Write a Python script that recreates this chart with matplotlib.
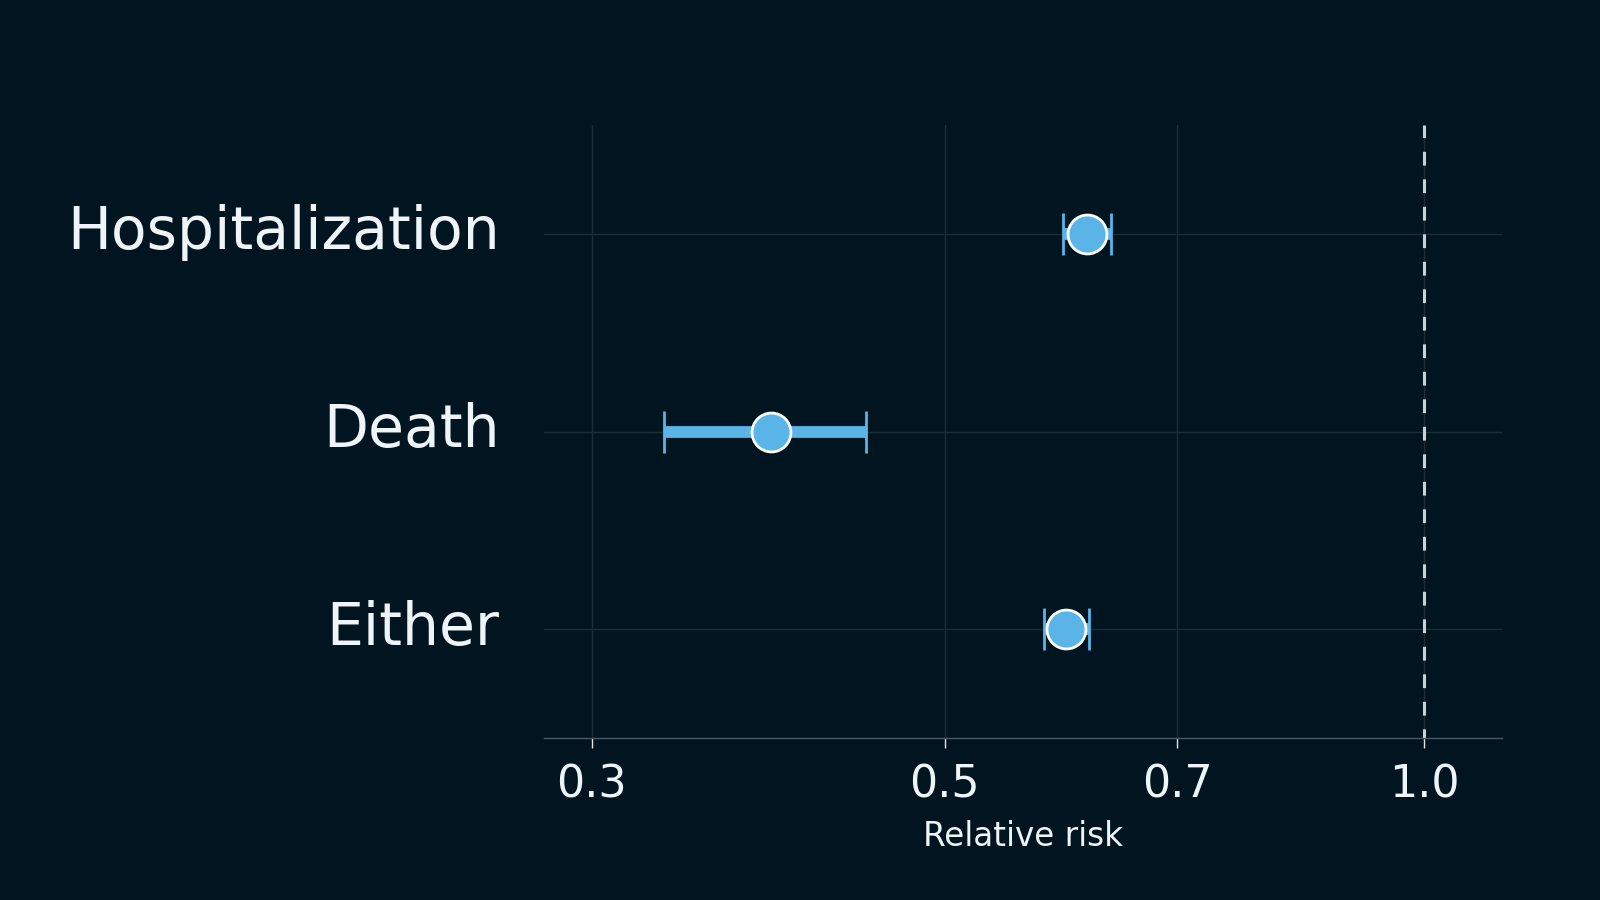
import numpy as np
import matplotlib.pyplot as plt
import matplotlib.transforms as mtransforms

# relative risk estimates with 95% CI
outcomes = ['Hospitalization', 'Death', 'Either']
rr = [0.614, 0.389, 0.596]
ci_low = [0.593, 0.333, 0.577]
ci_high = [0.636, 0.446, 0.616]
xticks = [0.3, 0.5, 0.7, 1.0]
xtick_labels = ['0.3', '0.5', '0.7', '1.0']

bg = '#011520'
blue = '#5ab4e8'
txt = '#eef4f8'

fig = plt.figure(figsize=(16, 9), dpi=100, facecolor=bg)
ax = fig.add_axes([0.34, 0.18, 0.599, 0.681], facecolor=bg)

y = np.arange(len(outcomes))[::-1]
rr = np.array(rr)
err = np.vstack([rr - np.array(ci_low), np.array(ci_high) - rr])

ax.set_xscale('log')
ax.set_xlim(0.28, 1.12)
ax.set_ylim(-0.55, 2.55)

# grid
for t in xticks:
    ax.axvline(t, color='#1d2d37', lw=1, zorder=0)
for yy in y:
    ax.axhline(yy, color='#1d2d37', lw=1, zorder=0)

ax.axvline(1.0, color='#c8d2d8', lw=2.2, ls=(1.5, (4.5, 4.5)), zorder=1)

ax.errorbar(rr, y, xerr=err, fmt='none', ecolor=blue, elinewidth=8.5,
            capsize=15, capthick=2, zorder=2)
ax.plot(rr, y, 'o', ms=28, mfc=blue, mec='white', mew=2, zorder=3)

ax.set_yticks(y)
ax.set_yticklabels(outcomes, fontsize=42, color=txt)
ax.tick_params(axis='y', length=0, pad=32)
# nudge labels up a bit
off = mtransforms.ScaledTranslation(0, 5 / 72, fig.dpi_scale_trans)
for lab in ax.get_yticklabels():
    lab.set_transform(lab.get_transform() + off)

ax.xaxis.set_minor_locator(plt.NullLocator())
ax.set_xticks(xticks)
ax.set_xticklabels(xtick_labels, fontsize=32, color=txt)
ax.tick_params(axis='x', length=7, width=1, color='#dfe6ea', pad=11)
ax.set_xlabel('Relative risk', fontsize=23.5, color=txt, labelpad=10)

for s in ['top', 'right', 'left']:
    ax.spines[s].set_visible(False)
ax.spines['bottom'].set_color('#4a5a64')
ax.spines['bottom'].set_linewidth(1)

fig.savefig('out.png', dpi=100, facecolor=bg)
